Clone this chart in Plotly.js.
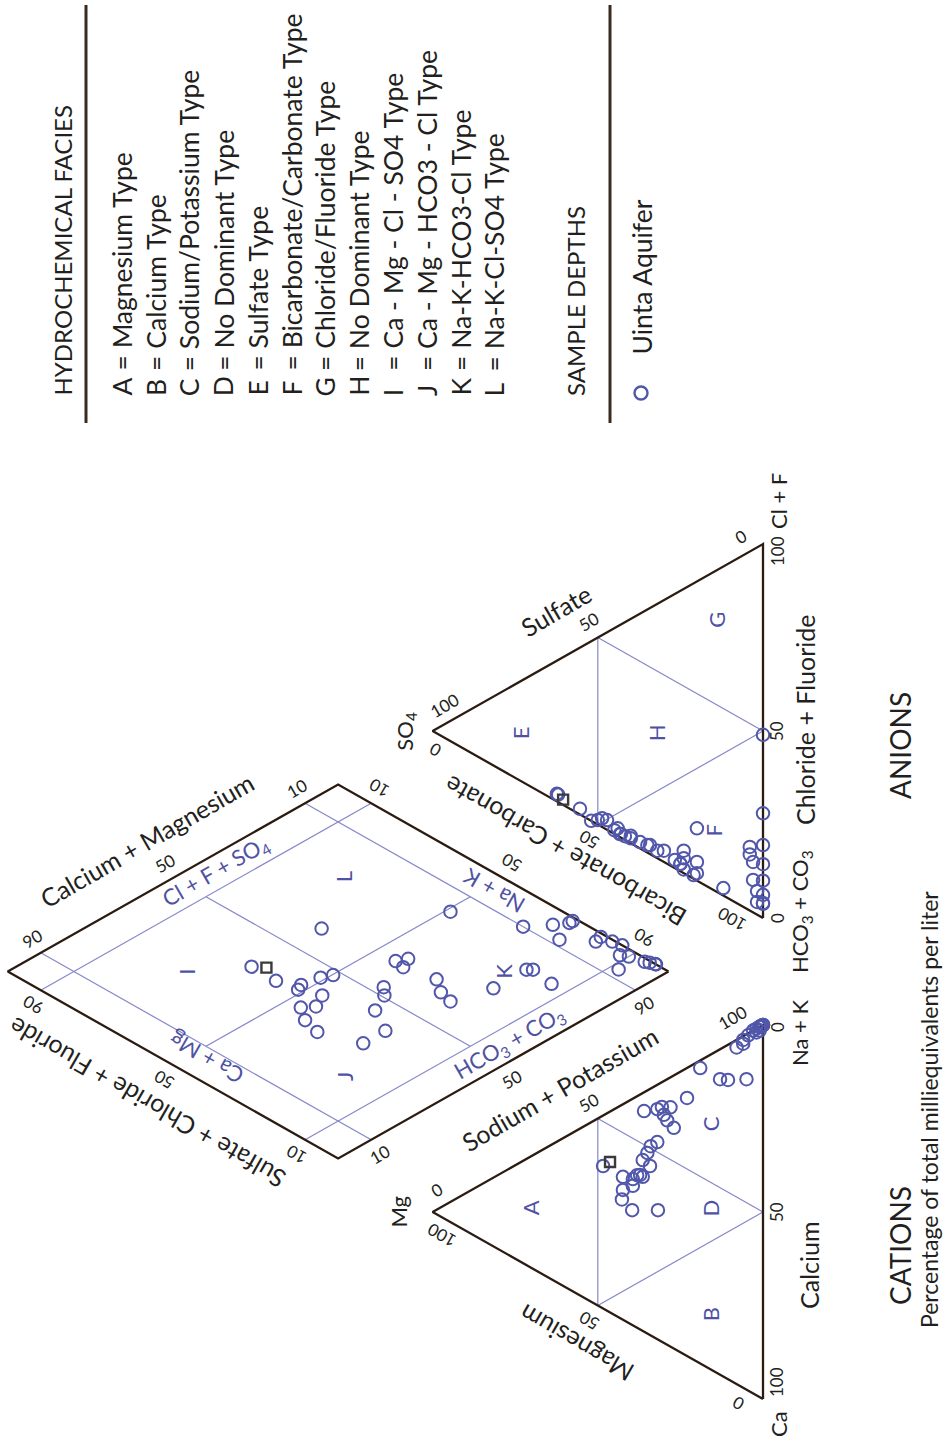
<!DOCTYPE html>
<html><head><meta charset="utf-8">
<script src="https://cdn.plot.ly/plotly-3.0.1.min.js"></script>
<style>html,body{margin:0;padding:0;background:#fff}#chart{width:948px;height:1437px}</style>
</head><body><div id="chart"></div>
<script>
// ---------- DATA (percent of total milliequivalents per liter) ----------
const naK  = [59, 83, 90, 95, 92, 99, 98, 97, 99, 100, 97, 93, 98, 99.5, 99, 99.5, 100, 100, 61.5, 61, 64, 62.8, 60, 59, 69, 79, 80, 79, 52.7, 50.6, 45.2, 34.6, 41.3, 48.3, 45.7, 41.2, 32, 30.7, 39.1, 40.8, 38.1, 38.2, 34.7, 37.3];
const mgP  = [27, 5, 8, 4.5, 6, 1, 2, 3, 1, 0, 2, 6, 1, 0.5, 1, 0.5, 0, 0, 32, 30, 28, 30.6, 29, 36, 23, 13, 10.6, 19, 32, 34, 34.2, 31.8, 37.2, 35, 36.4, 36.4, 42.7, 39.6, 39.4, 38.1, 48.4, 42.4, 42.4, 39.4];
const caP  = [14, 12, 2, 0.5, 2, 0, 0, 0, 0, 0, 1, 1, 1, 0, 0, 0, 0, 0, 6.5, 9, 8, 6.6, 11, 5, 8, 8, 9.4, 2, 15.3, 15.4, 20.6, 33.6, 21.5, 16.7, 17.9, 22.4, 25.3, 29.7, 21.5, 21.1, 13.5, 19.4, 22.9, 23.3];
const so4P = [62, 0, 20, 24, 20, 0, 24, 4, 0, 12, 3, 1.8, 0, 3, 0, 1.8, 0, 0, 43.3, 40, 41.8, 30, 26.7, 24, 21, 20, 4, 0, 37.2, 34.2, 32, 25, 25, 47.2, 48.7, 44, 40, 35, 50, 52, 55.4, 62.4, 45, 43];
const clP  = [2, 49, 14, 6, 5, 28, 4, 15, 19.5, 2, 8.7, 6.3, 10, 13.5, 6.2, 3.4, 3.8, 4, 0.8, 1.3, 1, 3, 2.2, 1, 1, 2, 17, 14.4, 1.7, 2.4, 2, 2, 2, 2.6, 2.3, 2, 2, 2, 1.2, 0, 1.5, 2, 1, 1];
const hco3P= [36, 51, 66, 70, 75, 72, 72, 81, 80.5, 86, 88.3, 91.9, 90, 83.5, 93.8, 94.8, 96.2, 96, 55.9, 58.7, 57.2, 67, 71.1, 75, 78, 78, 79, 85.6, 61.1, 63.4, 66, 73, 73, 50.2, 49, 54, 58, 63, 48.8, 48, 43.1, 35.6, 54, 56];
// highlighted sample (dark square)
const refNaK = [40.2], refMg = [46.3], refCa = [13.5], refSO4 = [60.5], refCl = [1.4], refHCO3 = [38.1];

const diamondTicks = [10, 50, 90];
const triTicks = [0, 50, 100];
const legendLetters = ['A','B','C','D','E','F','G','H','I','J','K','L'];
const legendTexts = ['= Magnesium Type','= Calcium Type','= Sodium/Potassium Type','= No Dominant Type','= Sulfate Type',
  '= Bicarbonate/Carbonate Type','= Chloride/Fluoride Type','= No Dominant Type','= Ca - Mg - Cl - SO4 Type',
  '= Ca - Mg - HCO3 - Cl Type','= Na-K-HCO3-Cl Type','= Na-K-Cl-SO4 Type'];
const seriesName = 'Uinta Aquifer';
// facies label positions (composition coordinates)
const catFaciesLetters = ['A','B','C','D'], catFaciesNa = [15.8,14.7,65.5,43], catFaciesMg = [70.5,16,16,16];
const anFaciesLetters = ['E','F','G','H'], anFaciesSO4 = [73.5,15,14,32], anFaciesCl = [12.7,16,72.7,33.5];
const diaFaciesLetters = ['I','J','K','L'], diaFaciesNa = [27,23,75,76], diaFaciesAn = [73,21,25,74.5];

// ---------- GEOMETRY ----------
const FONT = "Lato, 'Open Sans', sans-serif";
const BLACK = '#231f20', BLUE = '#4f52a3', LINEBLUE = '#8587c9', OUT = '#2b1b12', MARK = '#5157aa';
const OX = 763, OY = 1399, SU = 3.74, SV = 3.815;
const L = 100, G = 28.6, R3 = Math.sqrt(3) / 2;
function toPx(u, v) { return [OX - SV * v, OY - SU * u]; }
function cat(na, mg) { return toPx(na + mg / 2, mg * R3); }
function ani(so, cl) { return toPx(L + G + cl + so / 2, so * R3); }
function dia(na, an) {
  const s = (100 - na) / 100, t = an / 100;
  return toPx(L + G / 2 + (L / 2) * (t - s), G * R3 + L * R3 * (s + t));
}

const traces = [];
function poly(pts, color, width) {
  traces.push({x: pts.map(p => p[0]), y: pts.map(p => p[1]), mode: 'lines', type: 'scatter',
    line: {color, width}, hoverinfo: 'skip'});
}
function segs(list, color, width) {
  const x = [], y = [];
  list.forEach(([a, b]) => { x.push(a[0], b[0], null); y.push(a[1], b[1], null); });
  traces.push({x, y, mode: 'lines', type: 'scatter', line: {color, width}, hoverinfo: 'skip'});
}

// vertices
const C_CA = cat(0, 0), C_NA = cat(100, 0), C_MG = cat(0, 100);
const A_HC = ani(0, 0), A_CL = ani(0, 100), A_SO = ani(100, 0);
const D_B = dia(100, 0), D_L = dia(0, 0), D_T = dia(0, 100), D_R = dia(100, 100);

// inner blue lines
const inner = [];
inner.push([cat(50, 50), cat(0, 50)], [cat(50, 0), cat(0, 50)], [cat(50, 0), cat(50, 50)]);
inner.push([ani(50, 50), ani(50, 0)], [ani(0, 50), ani(50, 0)], [ani(0, 50), ani(50, 50)]);
[10, 90].forEach(p => {
  inner.push([dia(100 - p, 0), dia(100 - p, 100)]);   // constant Ca+Mg
  inner.push([dia(0, p), dia(100, p)]);               // constant Cl+SO4
});
inner.push([dia(50, 10), dia(50, 90)], [dia(10, 50), dia(90, 50)]);
segs(inner, LINEBLUE, 1.2);

// outlines
poly([C_CA, C_NA, C_MG, C_CA], OUT, 2.3);
poly([A_HC, A_CL, A_SO, A_HC], OUT, 2.3);
poly([D_B, D_L, D_T, D_R, D_B], OUT, 2.3);

// samples
const sx = [], sy = [];
naK.forEach((n, i) => {
  const c = cat(n, mgP[i]), a = ani(so4P[i], clP[i]), d = dia(n, so4P[i] + clP[i]);
  sx.push(c[0], a[0], d[0]); sy.push(c[1], a[1], d[1]);
});
traces.push({x: sx, y: sy, mode: 'markers', type: 'scatter', name: seriesName, hoverinfo: 'skip',
  marker: {symbol: 'circle-open', size: 12.5, color: MARK, line: {width: 2, color: MARK}}});
const rx = [], ry = [];
refNaK.forEach((n, i) => {
  const c = cat(n, refMg[i]), a = ani(refSO4[i], refCl[i]), d = dia(n, refSO4[i] + refCl[i]);
  rx.push(c[0], a[0], d[0]); ry.push(c[1], a[1], d[1]);
});
traces.push({x: rx, y: ry, mode: 'markers', type: 'scatter', hoverinfo: 'skip',
  marker: {symbol: 'square-open', size: 10, color: '#3a3a3a', line: {width: 2.4, color: '#3a3a3a'}}});

// ---------- TEXT ----------
const anns = [];
function ann(x, y, text, angle, size, color, xa, ya) {
  anns.push({x, y, xref: 'x', yref: 'y', text, textangle: angle, showarrow: false,
    font: {family: FONT, size, color: color || BLACK}, xanchor: xa || 'center', yanchor: ya || 'middle'});
}
function edgeText(A, B, C, f, d, text, angle, size, color) {
  const x = A[0] + f * (B[0] - A[0]), y = A[1] + f * (B[1] - A[1]);
  const len = Math.hypot(B[0] - A[0], B[1] - A[1]);
  let nx = -(B[1] - A[1]) / len, ny = (B[0] - A[0]) / len;
  if ((x - C[0]) * nx + (y - C[1]) * ny < 0) { nx = -nx; ny = -ny; }
  ann(x + nx * d, y + ny * d, text, angle, size, color);
}
const TK = 17, LB = 25;
const cC = cat(33.3, 33.3), aC = ani(33.3, 33.3), dC = dia(50, 50);

// cation triangle
edgeText(C_NA, C_MG, cC, 0.06, 21, '100', -30, TK);
edgeText(C_NA, C_MG, cC, 0.5, 18, '50', -30, TK);
edgeText(C_NA, C_MG, cC, 0.96, 17, '0', -30, TK);
edgeText(C_NA, C_MG, cC, 0.55, 45, 'Sodium + Potassium', -30, LB);
edgeText(C_MG, C_CA, cC, 0.05, 16, '100', -150, TK);
edgeText(C_MG, C_CA, cC, 0.5, 18, '50', -150, TK);
edgeText(C_MG, C_CA, cC, 0.95, 16, '0', -150, TK);
edgeText(C_MG, C_CA, cC, 0.5, 44, 'Magnesium', -150, LB);
const cMid = cat(50, 0);
ann(C_CA[0] + 13, C_CA[1] - 17, String(triTicks[2]), -90, TK);
ann(C_CA[0] + 15, C_CA[1] + 25, 'Ca', -90, 22);
ann(cMid[0] + 13, cMid[1], String(triTicks[1]), -90, TK);
ann(C_NA[0] + 14, C_NA[1] + 2, String(triTicks[0]), -90, TK);
ann(C_NA[0] + 36, C_NA[1] + 8, 'Na + K', -90, 22);
ann(cMid[0] + 46, cMid[1] + 54, 'Calcium', -90, LB);
ann(C_MG[0] - 35, C_MG[1], 'Mg', -90, 22);

// anion triangle
edgeText(A_SO, A_CL, aC, 0.06, 16, '100', -30, TK);
edgeText(A_SO, A_CL, aC, 0.5, 18, '50', -30, TK);
edgeText(A_SO, A_CL, aC, 0.96, 17, '0', -30, TK);
edgeText(A_SO, A_CL, aC, 0.44, 44, 'Sulfate', -30, LB);
edgeText(A_SO, A_HC, aC, 0.03, 15, '0', -150, TK);
edgeText(A_SO, A_HC, aC, 0.5, 18, '50', -150, TK);
edgeText(A_SO, A_HC, aC, 0.93, 16, '100', -150, TK);
edgeText(A_SO, A_HC, aC, 0.46, 40, 'Bicarbonate + Carbonate', -150, LB);
const aMid = ani(0, 50);
ann(A_CL[0] + 14, A_CL[1] + 7, String(triTicks[2]), -90, TK);
ann(A_CL[0] + 15, A_CL[1] - 13, 'Cl + F', -90, 22, BLACK, 'center', 'bottom');
ann(aMid[0] + 13, aMid[1], String(triTicks[1]), -90, TK);
ann(A_HC[0] + 14, A_HC[1], String(triTicks[0]), -90, TK);
ann(A_HC[0] + 38, A_HC[1] - 6, 'HCO<sub>3</sub> + CO<sub>3</sub>', -90, 22);
ann(aMid[0] + 42, aMid[1] - 11, 'Chloride + Fluoride', -90, LB);
ann(A_SO[0] - 27, A_SO[1], 'SO<sub>4</sub>', -90, 22);

// diamond
diamondTicks.forEach(p => {
  const f = p / 100;
  edgeText(D_R, D_T, dC, f, 17, String(p), -30, TK);          // Ca+Mg (upper-left)
  edgeText(D_L, D_T, dC, f, 17, String(p), -150, TK);         // SO4+Cl+F (lower-left)
  edgeText(D_B, D_R, dC, f, 17, String(100 - p), -150, TK);   // HCO3+CO3 (upper-right)
  edgeText(D_B, D_L, dC, f, 17, String(100 - p), -30, TK);    // Na+K (lower-right)
});
edgeText(D_R, D_T, dC, 0.51, 46, 'Calcium + Magnesium', -30, LB);
edgeText(D_L, D_T, dC, 0.51, 46, 'Sulfate + Chloride + Fluoride', -150, LB);
let p;
p = dia(58, 95); ann(p[0], p[1], 'Cl + F + SO<sub>4</sub>', -30, 22, BLUE);
p = dia(7, 47);  ann(p[0], p[1], 'Ca + Mg', -150, 22, BLUE);
p = dia(95, 48); ann(p[0], p[1], 'Na + K', -150, 22, BLUE);
p = dia(57, 5);  ann(p[0], p[1], 'HCO<sub>3</sub> + CO<sub>3</sub>', -30, 22, BLUE);

// facies letters
catFaciesLetters.forEach((l, i) => { const q = cat(catFaciesNa[i], catFaciesMg[i]); ann(q[0], q[1], l, -90, 22, BLUE); });
anFaciesLetters.forEach((l, i) => { const q = ani(anFaciesSO4[i], anFaciesCl[i]); ann(q[0], q[1], l, -90, 22, BLUE); });
diaFaciesLetters.forEach((l, i) => { const q = dia(diaFaciesNa[i], diaFaciesAn[i]); ann(q[0], q[1], l, -90, 22, BLUE); });

// side titles
ann(900, 746, 'ANIONS', -90, 28);
ann(900, 1246, 'CATIONS', -90, 28);
ann(929, 1110, 'Percentage of total milliequivalents per liter', -90, 23);

// legend
const LEG_BOTTOM = 398, LEG_X0 = 121.5, LEG_DX = 33.9, LFS = 26.5, LTS = 24;
ann(62, LEG_BOTTOM, 'HYDROCHEMICAL FACIES', -90, LTS, BLACK, 'center', 'bottom');
legendLetters.forEach((l, i) => {
  const x = LEG_X0 + LEG_DX * i;
  ann(x, LEG_BOTTOM, l, -90, LFS, BLACK, 'center', 'bottom');
  ann(x, LEG_BOTTOM - 25, legendTexts[i], -90, LFS, BLACK, 'center', 'bottom');
});
ann(575, LEG_BOTTOM, 'SAMPLE DEPTHS', -90, LTS, BLACK, 'center', 'bottom');
ann(641, LEG_BOTTOM - 41, seriesName, -90, LFS, BLACK, 'center', 'bottom');

const shapes = [
  {type: 'line', xref: 'x', yref: 'y', x0: 86, x1: 86, y0: 5, y1: 423, line: {color: '#3b2a1e', width: 3}},
  {type: 'line', xref: 'x', yref: 'y', x0: 610, x1: 610, y0: 5, y1: 423, line: {color: '#3b2a1e', width: 3}},
  {type: 'circle', xref: 'x', yref: 'y', x0: 634.5, x1: 647.5, y0: 386.5, y1: 399.5, line: {color: MARK, width: 2.4}}
];

const layout = {
  width: 948, height: 1437, margin: {l: 0, r: 0, t: 0, b: 0},
  paper_bgcolor: '#ffffff', plot_bgcolor: '#ffffff', showlegend: false,
  xaxis: {range: [0, 948], visible: false, fixedrange: true},
  yaxis: {range: [1437, 0], visible: false, fixedrange: true},
  annotations: anns, shapes
};
Plotly.newPlot('chart', traces, layout, {staticPlot: true, displayModeBar: false});
</script>
</body></html>
